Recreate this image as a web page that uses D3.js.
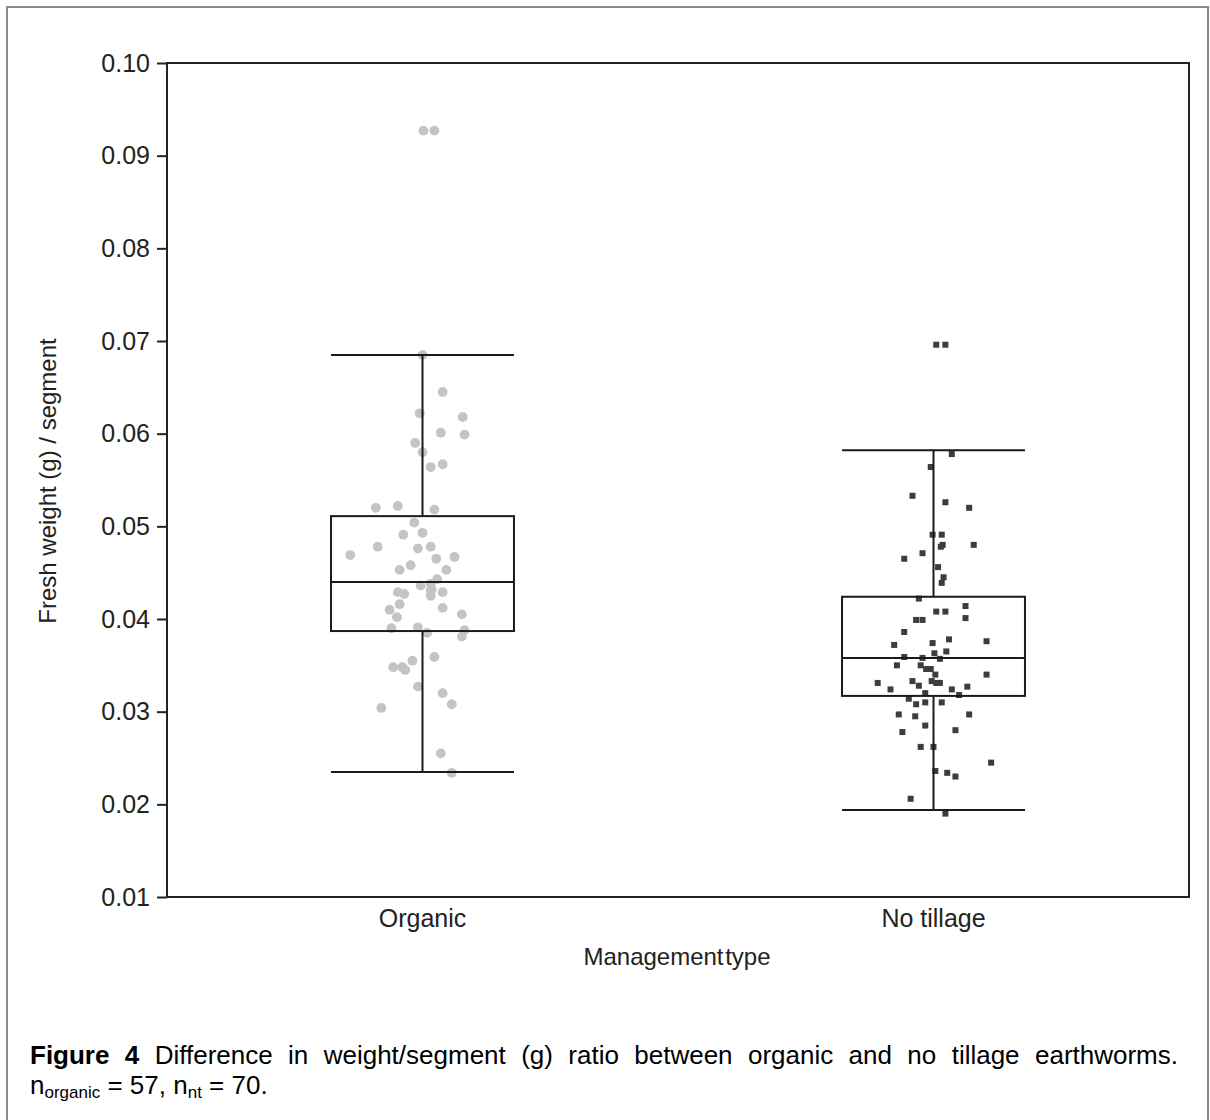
<!DOCTYPE html>
<html>
<head>
<meta charset="utf-8">
<script src="https://cdn.jsdelivr.net/npm/d3@7"></script>
<style>
    body { margin: 0; background: #fff; }
    svg text { font-family: "Liberation Sans", Arial, sans-serif; }
</style>
</head>
<body>
<svg id="chart" width="1210" height="1120"></svg>
<script>
const categories = ["Organic", "No tillage"];

// box summary, one entry per category
const whiskerLow = [0.0235, 0.0194];
const quart1 = [0.0387, 0.0317];
const medians = [0.0440, 0.0358];
const quart3 = [0.0511, 0.0424];
const whiskerHigh = [0.0685, 0.0582];

// jitter is the horizontal offset as a fraction of half the box width
const organicValues = [0.0685, 0.0645, 0.0622, 0.0618, 0.0601, 0.0599, 0.0590, 0.0580, 0.0564, 0.0567,
    0.0520, 0.0522, 0.0518, 0.0504, 0.0491, 0.0493, 0.0478, 0.0469, 0.0476, 0.0478,
    0.0465, 0.0467, 0.0458, 0.0453, 0.0453, 0.0443, 0.0436, 0.0438, 0.0431, 0.0425,
    0.0429, 0.0427, 0.0429, 0.0416, 0.0410, 0.0412, 0.0405, 0.0402, 0.0390, 0.0391,
    0.0385, 0.0388, 0.0381, 0.0359, 0.0348, 0.0348, 0.0345, 0.0355, 0.0327, 0.0320,
    0.0308, 0.0304, 0.0255, 0.0234, 0.0927, 0.0927, 0.0432];
const organicJitter = [0, 0.22, -0.03, 0.44, 0.20, 0.46, -0.08, 0, 0.09, 0.22,
    -0.51, -0.27, 0.13, -0.09, -0.21, 0, -0.49, -0.79, -0.05, 0.09,
    0.15, 0.35, -0.13, -0.25, 0.26, 0.16, -0.02, 0.09, 0.09, 0.09,
    -0.27, -0.20, 0.22, -0.25, -0.36, 0.22, 0.43, -0.28, -0.34, -0.05,
    0.05, 0.46, 0.43, 0.13, -0.32, -0.22, -0.19, -0.11, -0.05, 0.22,
    0.32, -0.45, 0.20, 0.32, 0.01, 0.13, 0.10];

const noTillValues = [0.0696, 0.0696, 0.0578, 0.0564, 0.0533, 0.0526, 0.0520, 0.0491, 0.0491, 0.0480,
    0.0480, 0.0478, 0.0471, 0.0465, 0.0456, 0.0445, 0.0439, 0.0422, 0.0408, 0.0408,
    0.0414, 0.0399, 0.0399, 0.0401, 0.0386, 0.0374, 0.0378, 0.0376, 0.0372, 0.0365,
    0.0363, 0.0359, 0.0358, 0.0357, 0.0350, 0.0350, 0.0346, 0.0346, 0.0340, 0.0340,
    0.0331, 0.0333, 0.0328, 0.0333, 0.0331, 0.0331, 0.0324, 0.0324, 0.0327, 0.0320,
    0.0318, 0.0314, 0.0308, 0.0310, 0.0310, 0.0297, 0.0295, 0.0297, 0.0285, 0.0278,
    0.0280, 0.0262, 0.0262, 0.0245, 0.0236, 0.0234, 0.0230, 0.0206, 0.0190, 0.0331];
const noTillJitter = [0.03, 0.13, 0.20, -0.03, -0.23, 0.13, 0.39, -0.01, 0.09, 0.10,
    0.44, 0.08, -0.12, -0.32, 0.05, 0.11, 0.09, -0.16, 0.03, 0.13,
    0.35, -0.19, -0.12, 0.35, -0.32, -0.01, 0.17, 0.58, -0.43, 0.14,
    0.01, -0.32, -0.12, 0.07, -0.40, -0.14, -0.08, -0.03, 0.02, 0.58,
    -0.61, -0.23, -0.16, -0.02, 0.03, 0.07, -0.47, 0.20, 0.37, -0.09,
    0.28, -0.27, -0.19, -0.09, 0.09, -0.38, -0.20, 0.39, -0.09, -0.34,
    0.24, -0.14, 0, 0.63, 0.02, 0.15, 0.24, -0.25, 0.13, 0.05];

const yTicks = [0.01, 0.02, 0.03, 0.04, 0.05, 0.06, 0.07, 0.08, 0.09, 0.10];

const margin = {top: 63, right: 21, bottom: 223, left: 167};
const width = 1210, height = 1120;
const plotW = width - margin.left - margin.right;
const plotH = height - margin.top - margin.bottom;

let svg = d3.select("#chart");

// outer grey frame round the figure
svg.append("path")
    .attr("d", "M7,1120 V7 H1208 V1120")
    .attr("fill", "none")
    .attr("stroke", "#8a8a8a")
    .attr("stroke-width", 2);

let g = svg.append("g").attr("transform", `translate(${margin.left},${margin.top})`);

let x = d3.scaleBand().domain(categories).range([0, plotW]).padding(0);
let y = d3.scaleLinear().domain([0.01, 0.10]).range([plotH, 0]);
let boxW = x.bandwidth() * 0.358;
let jit = d3.scaleLinear().domain([-1, 1]).range([-boxW / 2, boxW / 2]);
let cx = c => x(c) + x.bandwidth() / 2;

let yAxis = g.append("g")
    .call(d3.axisLeft(y).tickValues(yTicks).tickFormat(d3.format(".2f")).tickSize(10).tickSizeOuter(0));
yAxis.select(".domain").remove();
yAxis.selectAll("line").attr("stroke", "#222").attr("stroke-width", 2);
yAxis.selectAll("text")
    .attr("x", -17)
    .attr("fill", "#222")
    .style("font-size", "25px");

g.append("rect")
    .attr("width", plotW)
    .attr("height", plotH)
    .attr("fill", "none")
    .attr("stroke", "#222")
    .attr("stroke-width", 2);

let xAxis = g.append("g")
    .attr("transform", `translate(0,${plotH})`)
    .call(d3.axisBottom(x).tickSize(0));
xAxis.select(".domain").remove();
xAxis.selectAll("text")
    .attr("y", 30)
    .attr("dy", 0)
    .attr("fill", "#222")
    .style("font-size", "25px");

// points go under the boxes
let organic = organicValues.map((v, i) => ({v: v, j: organicJitter[i]}));
let noTill = noTillValues.map((v, i) => ({v: v, j: noTillJitter[i]}));

g.selectAll("circle.organic")
    .data(organic)
    .join("circle")
    .attr("class", "organic")
    .attr("cx", d => cx(categories[0]) + jit(d.j))
    .attr("cy", d => y(d.v))
    .attr("r", 4.9)
    .attr("fill", "#c4c4c4");

g.selectAll("rect.notill")
    .data(noTill)
    .join("rect")
    .attr("class", "notill")
    .attr("x", d => cx(categories[1]) + jit(d.j) - 3)
    .attr("y", d => y(d.v) - 3)
    .attr("width", 6)
    .attr("height", 6)
    .attr("fill", "#3d3d3d");

let boxes = categories.map((c, i) => ({
    cat: c, lo: whiskerLow[i], q1: quart1[i], med: medians[i], q3: quart3[i], hi: whiskerHigh[i]
}));

let bg = g.selectAll("g.box")
    .data(boxes)
    .join("g")
    .attr("class", "box")
    .attr("stroke", "#1a1a1a")
    .attr("stroke-width", 2)
    .attr("fill", "none");

bg.append("line")
    .attr("x1", d => cx(d.cat)).attr("x2", d => cx(d.cat))
    .attr("y1", d => y(d.hi)).attr("y2", d => y(d.q3));
bg.append("line")
    .attr("x1", d => cx(d.cat)).attr("x2", d => cx(d.cat))
    .attr("y1", d => y(d.q1)).attr("y2", d => y(d.lo));
bg.append("rect")
    .attr("x", d => cx(d.cat) - boxW / 2)
    .attr("y", d => y(d.q3))
    .attr("width", boxW)
    .attr("height", d => y(d.q1) - y(d.q3));
["hi", "lo", "med"].forEach(k => {
    bg.append("line")
        .attr("x1", d => cx(d.cat) - boxW / 2).attr("x2", d => cx(d.cat) + boxW / 2)
        .attr("y1", d => y(d[k])).attr("y2", d => y(d[k]));
});

// axis titles
g.append("text")
    .attr("x", 677 - margin.left)
    .attr("y", plotH + 68)
    .attr("text-anchor", "middle")
    .attr("fill", "#222")
    .attr("word-spacing", -5)
    .style("font-size", "24px")
    .text("Management type");

svg.append("text")
    .attr("transform", "translate(56,481) rotate(-90)")
    .attr("text-anchor", "middle")
    .attr("fill", "#222")
    .style("font-size", "24px")
    .text("Fresh weight (g) / segment");

// caption, first line justified between the frame margins
let cap1 = svg.append("text")
    .attr("x", 30)
    .attr("y", 1064)
    .attr("fill", "#000")
    .style("font-size", "26px");
cap1.append("tspan").attr("font-weight", "bold").text("Figure 4");
cap1.append("tspan").text(" Difference in weight/segment (g) ratio between organic and no tillage earthworms.");
let spaces = 12;
let extra = (1178 - 30 - cap1.node().getComputedTextLength()) / spaces;
cap1.attr("word-spacing", extra);

let cap2 = svg.append("text")
    .attr("x", 30)
    .attr("y", 1094)
    .attr("fill", "#000")
    .style("font-size", "26px");
cap2.append("tspan").text("n");
cap2.append("tspan").attr("dy", 4).style("font-size", "17px").text("organic");
cap2.append("tspan").attr("dy", -4).text(" = 57, n");
cap2.append("tspan").attr("dy", 4).style("font-size", "17px").text("nt");
cap2.append("tspan").attr("dy", -4).text(" = 70.");
</script>
</body>
</html>
